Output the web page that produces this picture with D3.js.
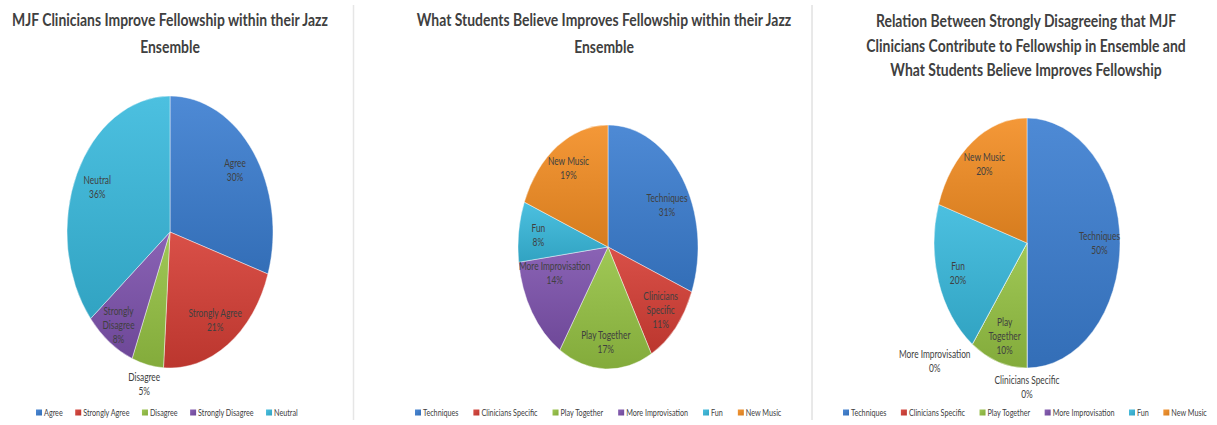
<!DOCTYPE html>
<html>
<head>
<meta charset="utf-8">
<script src="https://cdn.jsdelivr.net/npm/d3@7"></script>
<style>
  html, body { margin: 0; padding: 0; background: #ffffff; }
  svg { display: block; }
  text { font-family: Lato, "Open Sans", "Liberation Sans", sans-serif; fill: #404040; }
</style>
</head>
<body>
<svg id="chart" width="1217" height="425"></svg>
<script>
// ---------- DATA ----------
const chart1Title = ["MJF Clinicians Improve Fellowship within their Jazz", "Ensemble"];
const chart1Categories = ["Agree", "Strongly Agree", "Disagree", "Strongly Disagree", "Neutral"];
const chart1Values = [30, 21, 5, 8, 36];
const chart1LabelText = ["Agree", "Strongly Agree", "Disagree", "Strongly\nDisagree", "Neutral"];
const chart1Colors = ["#3a7dd0", "#d53d34", "#95c243", "#7d52ad", "#38b9dd"];

const chart2Title = ["What Students Believe Improves Fellowship within their Jazz", "Ensemble"];
const chart2Categories = ["Techniques", "Clinicians Specific", "Play Together", "More Improvisation", "Fun", "New Music"];
const chart2Values = [31, 11, 17, 14, 8, 19];
const chart2LabelText = ["Techniques", "Clinicians\nSpecific", "Play Together", "More Improvisation", "Fun", "New Music"];

const chart3Title = ["Relation Between Strongly Disagreeing that MJF", "Clinicians Contribute to Fellowship in Ensemble and", "What Students Believe Improves Fellowship"];
const chart3Categories = ["Techniques", "Clinicians Specific", "Play Together", "More Improvisation", "Fun", "New Music"];
const chart3Values = [50, 0, 10, 0, 20, 20];
const chart3LabelText = ["Techniques", "Clinicians Specific", "Play\nTogether", "More Improvisation", "Fun", "New Music"];

const chart23Colors = ["#3a7dd0", "#d53d34", "#95c243", "#7d52ad", "#38b9dd", "#f38d22"];

// ---------- LAYOUT ----------
const charts = [
  { title: chart1Title, cats: chart1Categories, vals: chart1Values, labels: chart1LabelText, colors: chart1Colors,
    titleX: 170, titleY: 26, titleLH: 27, cx: 170, cy: 232, rx: 103, ry: 136,
    legendX: 36, legendGap: 12.5, overrides: { "Strongly Disagree": { r: 0.85 } } },
  { title: chart2Title, cats: chart2Categories, vals: chart2Values, labels: chart2LabelText, colors: chart23Colors,
    titleX: 604, titleY: 26, titleLH: 27, cx: 608, cy: 247, rx: 90, ry: 122,
    legendX: 415, legendGap: 15, overrides: { "Techniques": { r: 0.74, da: 6.6 }, "More Improvisation": { r: 0.63, da: 12.4 } } },
  { title: chart3Title, cats: chart3Categories, vals: chart3Values, labels: chart3LabelText, colors: chart23Colors,
    titleX: 1026, titleY: 27, titleLH: 24.5, cx: 1027, cy: 243, rx: 93, ry: 125,
    legendX: 843, legendGap: 14.5, overrides: { "More Improvisation": { r: 1.37, da: 10.4 } } }
];

const SX = 0.76;       // horizontal condensing of label / legend text
const SX_TITLE = 0.82; // horizontal condensing of titles
const svg = d3.select("#chart");
const defs = svg.append("defs");

// divider lines
svg.append("line").attr("x1", 353.5).attr("x2", 353.5).attr("y1", 5).attr("y2", 420)
  .attr("stroke", "#e6e6e6").attr("stroke-width", 1.5);
svg.append("line").attr("x1", 812).attr("x2", 812).attr("y1", 5).attr("y2", 420)
  .attr("stroke", "#d2d2d2").attr("stroke-width", 1);

function gradientFor(id, color, vertical) {
  const g = defs.append("linearGradient").attr("id", id)
    .attr("x1", 0).attr("y1", 0).attr("x2", vertical ? 0 : 1).attr("y2", 1);
  const c = d3.color(color);
  g.append("stop").attr("offset", "0%").attr("stop-color", d3.interpolateRgb(c, "#ffffff")(0.1));
  g.append("stop").attr("offset", "100%").attr("stop-color", d3.interpolateRgb(c, "#000000")(0.12));
  return `url(#${id})`;
}

function condensedText(sel, x, y, str, sx) {
  return sel.append("text")
    .attr("transform", `translate(${x},${y}) scale(${sx},1)`)
    .text(str);
}

charts.forEach((ch, ci) => {
  const g = svg.append("g");

  // title
  ch.title.forEach((line, li) => {
    condensedText(g, ch.titleX, ch.titleY + li * ch.titleLH, line, SX_TITLE)
      .attr("text-anchor", "middle")
      .attr("font-size", 17).attr("font-weight", 700);
  });

  // pie
  const data = ch.cats.map((c, i) => ({ cat: c, value: ch.vals[i], label: ch.labels[i], color: ch.colors[i] }));
  const pie = d3.pie().sort(null).value(d => d.value).startAngle(0).endAngle(2 * Math.PI);
  const arcs = pie(data);
  const arc = d3.arc().innerRadius(0).outerRadius(1);

  const pieG = g.append("g").attr("transform", `translate(${ch.cx},${ch.cy}) scale(${ch.rx},${ch.ry})`);
  pieG.selectAll("path").data(arcs).join("path")
    .attr("d", arc)
    .attr("fill", (d, i) => gradientFor(`g${ci}_${i}`, d.data.color, true))
    .attr("stroke", "rgba(255,255,255,0.55)")
    .attr("stroke-width", 0.8)
    .attr("vector-effect", "non-scaling-stroke");

  // labels
  const lh = 14;
  arcs.forEach(a => {
    const ov = ch.overrides[a.data.cat] || {};
    const small = a.data.value < 6;
    const r = ov.r !== undefined ? ov.r : (small ? 1.15 : 0.78);
    const ang = (a.startAngle + a.endAngle) / 2 + (ov.da || 0) * Math.PI / 180;
    const x = ch.cx + Math.sin(ang) * r * ch.rx;
    const y = ch.cy - Math.cos(ang) * r * ch.ry;
    const lines = a.data.label.split("\n").concat([`${a.data.value}%`]);
    lines.forEach((ln, li) => {
      condensedText(g, x, y + (li - (lines.length - 1) / 2) * lh, ln, SX)
        .attr("text-anchor", "middle")
        .attr("dy", "0.35em")
        .attr("font-size", 11);
    });
  });

  // legend
  let lx = ch.legendX;
  const ly = 413;
  data.forEach((d, i) => {
    g.append("rect").attr("x", lx).attr("y", ly - 3.5).attr("width", 6).attr("height", 6)
      .attr("fill", gradientFor(`lg${ci}_${i}`, d.color, false));
    const t = condensedText(g, lx + 8, ly, d.cat, SX)
      .attr("dy", "0.35em").attr("font-size", 9.5);
    const w = t.node().getComputedTextLength() * SX;
    lx += 8 + w + ch.legendGap;
  });
});
</script>
</body>
</html>
